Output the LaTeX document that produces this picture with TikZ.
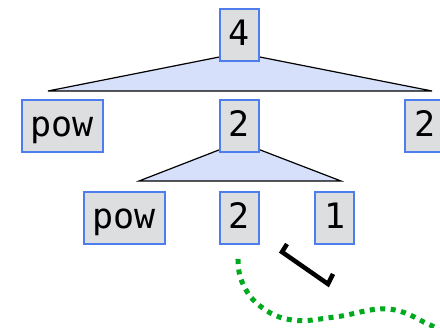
\documentclass[tikz,border=0pt]{standalone}
\usepackage{fontspec}
\setmonofont{DejaVu Sans Mono}
\usetikzlibrary{positioning,backgrounds}
\definecolor{boxfill}{RGB}{221,222,224}
\definecolor{boxline}{RGB}{78,126,238}
\definecolor{fanfill}{RGB}{214,224,250}
\definecolor{dotgreen}{RGB}{0,170,30}

\begin{document}
\begin{tikzpicture}[x=1pt,y=-1pt]
\useasboundingbox (0,0) rectangle (440,328);
\begin{scope}[every node/.style={rectangle,draw=boxline,fill=boxfill,line width=2pt,
  minimum width=39pt,minimum height=52pt,inner xsep=9pt,inner ysep=0pt,
  text height=28pt,text depth=6pt,font=\ttfamily\fontsize{35}{40}\selectfont}]
\node (1) at (239.5,35) {4};
\node (2) [below=37pt of 1] {2};
\node (3) [left=115pt of 2] {pow};
\node (4) [right=144pt of 2] {2};
\node (5) [below=38pt of 2] {2};
\node (6) [left=53pt of 5] {pow};
\node (7) [right=54pt of 5] {1};
\end{scope}

\begin{pgfonlayer}{background}
\begin{scope}[fill=fanfill,draw=black,line width=1.2pt]
\filldraw ([yshift=-18pt]1.center) -- ([xshift=-191.5pt,yshift=-29pt]1.south) -- ([xshift=192.5pt,yshift=-29pt]1.south) -- cycle;
\filldraw ([yshift=-16pt]2.center) -- ([xshift=-100.5pt,yshift=-28pt]2.south) -- ([xshift=101.5pt,yshift=-28pt]2.south) -- cycle;
\end{scope}
\end{pgfonlayer}

\draw [line width=4.5pt] (287,244) -- (282,252) -- (328,284) -- (333,274);
\draw [dotgreen, line width=5pt, dash pattern=on 5pt off 5.5pt]
  plot [smooth, tension=0.7] coordinates {(238,259) (242,282) (260,306) (292,320) (335,317) (388,309) (428,324) (446,334)};
\end{tikzpicture}
\end{document}
